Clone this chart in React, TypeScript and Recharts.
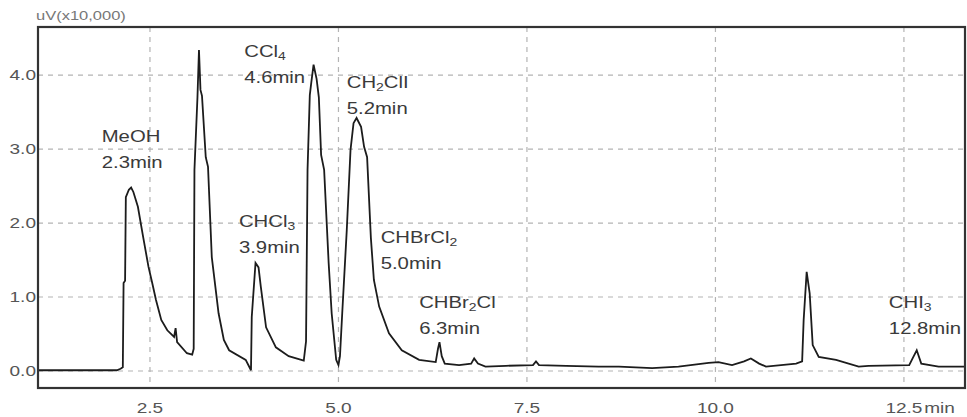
import React from "react"
import {
  ComposedChart,
  Line,
  Scatter,
  XAxis,
  YAxis,
  CartesianGrid,
  Label,
} from "recharts"

// retention time (min) and detector signal (uV x10,000)
const times = [
  1.0, 2.06, 2.11, 2.14, 2.15, 2.17, 2.18, 2.22, 2.25, 2.28, 2.34, 2.41, 2.48, 2.53, 2.58, 2.65,
  2.73, 2.82, 2.84, 2.86, 2.99, 3.06, 3.08, 3.09, 3.13, 3.15, 3.17, 3.19, 3.24, 3.27, 3.32, 3.41,
  3.48, 3.55, 3.77, 3.84, 3.85, 3.9, 3.94, 3.97, 4.04, 4.17, 4.34, 4.54, 4.57, 4.59, 4.62, 4.64,
  4.67, 4.71, 4.74, 4.77, 4.81, 4.87, 4.91, 4.97, 5.0, 5.02, 5.05, 5.11, 5.16, 5.2, 5.24, 5.3,
  5.34, 5.38, 5.43, 5.47, 5.54, 5.67, 5.84, 6.07, 6.29, 6.32, 6.34, 6.37, 6.41, 6.6, 6.76, 6.8,
  6.85, 6.95, 7.22, 7.58, 7.62, 7.66, 8.02, 8.45, 8.72, 9.16, 9.51, 9.91, 10.04, 10.22, 10.38,
  10.47, 10.58, 10.67, 11.07, 11.15, 11.17, 11.21, 11.25, 11.29, 11.37, 11.6, 11.9, 12.03, 12.57,
  12.62, 12.67, 12.73, 12.96, 13.31,
]
const signal = [
  0.01, 0.01, 0.03, 0.05, 1.19, 1.22, 2.35, 2.45, 2.48, 2.42, 2.22, 1.81, 1.41, 1.19, 0.96, 0.69,
  0.55, 0.46, 0.58, 0.39, 0.24, 0.22, 0.3, 2.72, 3.7, 4.34, 3.8, 3.72, 2.89, 2.76, 1.54, 0.78,
  0.42, 0.28, 0.15, 0.01, 0.73, 1.46, 1.4, 1.14, 0.59, 0.32, 0.2, 0.14, 0.4, 2.72, 3.73, 3.9,
  4.14, 3.95, 3.7, 2.92, 2.72, 1.46, 0.78, 0.15, 0.08, 0.2, 0.78, 1.9, 2.99, 3.35, 3.42, 3.3,
  3.03, 2.89, 1.8, 1.23, 0.87, 0.51, 0.28, 0.15, 0.12, 0.3, 0.39, 0.2, 0.1, 0.08, 0.1, 0.17,
  0.1, 0.06, 0.07, 0.08, 0.13, 0.08, 0.07, 0.06, 0.06, 0.04, 0.06, 0.11, 0.12, 0.08, 0.13,
  0.17, 0.1, 0.06, 0.1, 0.13, 0.69, 1.34, 1.05, 0.35, 0.19, 0.15, 0.06, 0.07, 0.08,
  0.18, 0.28, 0.1, 0.06, 0.06,
]

const xTicks = [2.5, 5.0, 7.5, 10.0, 12.5]
const yTicks = [0, 1, 2, 3, 4]

// peak annotations
const peakNames = ["MeOH", "CCl4", "CHCl3", "CH2ClI", "CHBrCl2", "CHBr2Cl", "CHI3"]
const peakTimes = ["2.3min", "4.6min", "3.9min", "5.2min", "5.0min", "6.3min", "12.8min"]
const labelT = [1.86, 3.75, 3.68, 5.11, 5.56, 6.07, 12.3]
const labelV = [3.09, 4.24, 1.95, 3.82, 1.73, 0.85, 0.85]

const data = times.map((t, i) => ({ t, v: signal[i] }))
const notes = peakNames.map((name, i) => ({ t: labelT[i], v: labelV[i], name, time: peakTimes[i] }))

const FONT = "Liberation Sans, Arial, sans-serif"
const STRETCH = 1.27

function Formula({ name }: { name: string }) {
  // digits are drawn as subscripts
  const parts: React.ReactNode[] = []
  let shifted = false
  name.split("").forEach((ch, i) => {
    if (/[0-9]/.test(ch)) {
      parts.push(<tspan key={i} fontSize={11} dy={shifted ? 0 : 3}>{ch}</tspan>)
      shifted = true
    } else {
      parts.push(<tspan key={i} dy={shifted ? -3 : 0}>{ch}</tspan>)
      shifted = false
    }
  })
  return <>{parts}</>
}

function PeakLabel(props: any) {
  const { cx, cy, payload } = props
  return (
    <g transform={`translate(${cx},${cy}) scale(${STRETCH},1)`}>
      <text x={0} y={0} fontSize={16} fontFamily={FONT} fill="#3a3a3a">
        <Formula name={payload.name} />
      </text>
      <text x={0} y={26} fontSize={16} fontFamily={FONT} fill="#3a3a3a">
        {payload.time}
      </text>
    </g>
  )
}

function XTick(props: any) {
  const { x, y, payload } = props
  const last = payload.value === 12.5
  return (
    <g transform={`translate(${x},${y + 17}) scale(${STRETCH},1)`}>
      <text x={0} y={0} textAnchor="middle" fontSize={15} fontFamily={FONT} fill="#555">
        {payload.value.toFixed(1)}
      </text>
      {last && (
        <text x={16} y={0} fontSize={15} fontFamily={FONT} fill="#555">
          min
        </text>
      )}
    </g>
  )
}

function YTick(props: any) {
  const { y, payload } = props
  return (
    <g transform={`translate(36,${y + 5}) scale(${STRETCH},1)`}>
      <text x={0} y={0} textAnchor="end" fontSize={15} fontFamily={FONT} fill="#555">
        {payload.value.toFixed(1)}
      </text>
    </g>
  )
}

export default function App() {
  return (
    <div style={{ position: "absolute", left: 0, top: 0, width: 967, height: 417, background: "#fff" }}>
      <ComposedChart
        width={967}
        height={417}
        data={data}
        margin={{ top: 27, right: 2, left: 0, bottom: 0 }}
      >
        <CartesianGrid stroke="#b4b4b4" strokeDasharray="5 5" strokeWidth={1.2} />
        <XAxis
          dataKey="t"
          type="number"
          domain={[1.015, 13.31]}
          ticks={xTicks}
          allowDataOverflow
          height={29}
          axisLine={false}
          tickLine={false}
          tick={<XTick />}
        />
        <YAxis
          type="number"
          domain={[-0.23, 4.65]}
          ticks={yTicks}
          allowDataOverflow
          width={38}
          axisLine={false}
          tickLine={false}
          tick={<YTick />}
        >
          <Label
            content={() => (
              <g transform={`translate(36,20) scale(${STRETCH},1)`}>
                <text x={0} y={0} fontSize={13} fontFamily={FONT} fill="#777">
                  uV(x10,000)
                </text>
              </g>
            )}
          />
        </YAxis>
        <Line
          type="linear"
          dataKey="v"
          stroke="#1c1c1c"
          strokeWidth={1.8}
          dot={false}
          isAnimationActive={false}
        />
        <Scatter data={notes} dataKey="v" shape={<PeakLabel />} isAnimationActive={false} />
      </ComposedChart>
      {/* plot frame */}
      <svg
        width={967}
        height={417}
        style={{ position: "absolute", left: 0, top: 0, pointerEvents: "none" }}
      >
        <rect x={38} y={27} width={927} height={361} fill="none" stroke="#333" strokeWidth={2.2} />
      </svg>
    </div>
  )
}
